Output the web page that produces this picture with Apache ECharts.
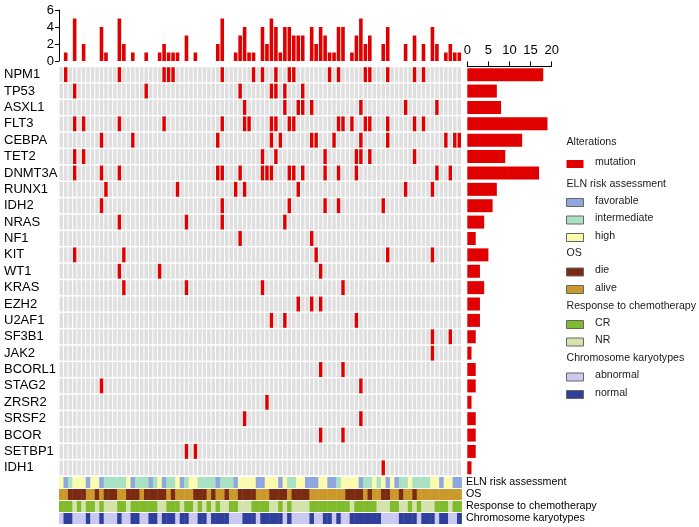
<!DOCTYPE html>
<html><head><meta charset="utf-8">
<script src="https://cdn.jsdelivr.net/npm/echarts/dist/echarts.min.js"></script>
<style>html,body{margin:0;padding:0;background:#fff}#c{width:699px;height:527px}</style>
</head><body><div id="c"></div>
<script>
// ---------------- data ----------------
const genes = ['NPM1','TP53','ASXL1','FLT3','CEBPA','TET2','DNMT3A','RUNX1','IDH2','NRAS','NF1','KIT','WT1','KRAS','EZH2','U2AF1','SF3B1','JAK2','BCORL1','STAG2','ZRSR2','SRSF2','BCOR','SETBP1','IDH1'];
const geneCounts = [18,7,8,19,13,9,17,7,6,4,2,5,3,4,3,3,2,1,2,2,1,2,2,2,1];
const sampleCounts = [0,1,0,5,0,2,0,0,0,4, 1,0,0,5,2,0,1,0,0,1, 0,0,1,2,1,1,1,0,3,0, 1,0,0,0,0,2,5,0,0,1, 3,4,1,1,0,4,2,5,4,1, 4,4,3,3,3,0,4,2,4,3, 1,1,4,4,0,1,3,5,2,3, 0,0,2,4,0,0,0,2,0,3, 0,2,0,4,2,0,1,2,1,1];
// sample indices (0-based columns) carrying a mutation, one list per gene
const mutatedSamples = [
  [1,13,23,24,25,36,43,45,48,51,52,60,62,68,69,73,79,81],
  [3,19,40,47,48,50,54],
  [41,50,53,54,56,67,77,84],
  [3,5,13,23,36,41,42,47,48,51,52,62,63,65,68,69,73,79,81],
  [9,16,35,47,49,56,57,61,67,73,86,88,89],
  [3,5,45,48,59,66,67,69,79],
  [3,9,13,35,36,40,45,46,47,51,52,54,59,62,66,84,87],
  [10,26,39,41,53,77,83],
  [9,36,51,59,62,72],
  [13,28,36,50],
  [40,56],
  [3,14,57,73,83],
  [13,22,58],
  [14,28,45,63],
  [53,56,58],
  [47,50,66],
  [83,87],
  [83],
  [58,63],
  [9,67],
  [46],
  [41,67],
  [58,63],
  [28,30],
  [72]
];
const trackNames = ['ELN risk assessment','OS','Response to chemotherapy','Chromosome karyotypes'];
// ELN: F favorable, I intermediate, H high
const eln = ['H','F','I','H','H','H','F','H','H','F', 'I','I','I','I','I','H','F','I','I','I', 'F','I','H','F','I','I','H','F','I','H',
             'H','I','I','I','I','F','I','I','I','F', 'H','H','H','H','F','F','H','H','H','F', 'H','I','I','H','H','F','F','F','H','H',
             'F','F','I','H','H','H','H','F','I','I', 'H','I','H','F','H','F','I','I','H','I', 'I','I','I','H','H','F','H','H','F','F'];
// OS: D die, A alive
const os = ['A','A','D','D','D','D','A','A','D','A', 'D','D','D','A','A','D','D','D','A','D', 'D','D','D','D','A','D','A','A','A','A',
            'D','D','D','A','D','A','A','D','A','A', 'D','D','D','D','A','A','A','D','D','D', 'D','A','D','D','D','D','A','A','A','A',
            'A','A','A','A','D','D','D','D','A','D', 'A','A','D','D','A','A','D','A','A','D', 'A','A','A','A','A','A','A','A','A','A'];
// Response: C CR, N NR
const response = ['C','C','C','N','C','N','C','C','N','C', 'N','N','N','C','C','N','C','C','C','C', 'C','C','N','N','C','C','C','N','C','C',
                  'N','C','N','C','N','C','N','N','C','C', 'N','N','N','C','C','C','C','N','N','C', 'N','C','N','N','N','N','C','C','C','C',
                  'C','C','C','C','C','N','C','C','C','C', 'C','N','N','N','C','C','N','N','C','N', 'C','N','N','N','C','C','C','N','C','C'];
// Karyotype: a abnormal, n normal
const karyotype = ['a','n','n','a','a','a','n','a','a','n', 'a','a','a','n','a','a','n','n','a','a', 'n','n','a','n','n','n','a','n','n','a',
                   'a','n','n','a','n','n','n','n','a','a', 'a','n','n','n','a','n','n','n','n','n', 'a','n','a','a','a','a','n','a','a','n',
                   'n','a','n','a','a','n','n','n','n','n', 'n','n','a','a','a','a','n','n','n','n', 'a','n','n','n','a','n','n','a','a','n'];

// ---------------- styles ----------------
const RED = '#e00000', GREY = '#dfdfdf';
const trackColors = [
  {F:'#8ea7e0', I:'#a8e2c3', H:'#fbfbad'},
  {D:'#7a2b12', A:'#cb982c'},
  {C:'#80bb2c', N:'#d3e3aa'},
  {a:'#c9c9f1', n:'#2e409c'}
];
const legendGroups = [
  {title:'Alterations', y:144, items:[['mutation',RED,false]]},
  {title:'ELN risk assessment', y:185.5, items:[['favorable',trackColors[0].F,true],['intermediate',trackColors[0].I,true],['high',trackColors[0].H,true]]},
  {title:'OS', y:255, items:[['die',trackColors[1].D,true],['alive',trackColors[1].A,true]]},
  {title:'Response to chemotherapy', y:307.5, items:[['CR',trackColors[2].C,true],['NR',trackColors[2].N,true]]},
  {title:'Chromosome karyotypes', y:360, items:[['abnormal',trackColors[3].a,true],['normal',trackColors[3].n,true]]}
];

const FONT = 'Liberation Sans, Arial, sans-serif';
const samples = sampleCounts.map((_, i) => 'S' + (i + 1));

const cellData = [];
genes.forEach((g, gi) => {
  samples.forEach((s, si) => {
    cellData.push([si, gi, mutatedSamples[gi].indexOf(si) >= 0 ? 1 : 0]);
  });
});
const trackSeq = [eln, os, response, karyotype];
const trackData = [];
trackSeq.forEach((arr, ti) => arr.forEach((v, si) => trackData.push([si, ti])));

const graphics = [];
legendGroups.forEach((grp, gi) => {
  graphics.push({type:'text', left:566.5, top:grp.y - 7, style:{text:grp.title, fontSize:10.6, fontFamily:FONT, fill:'#1a1a1a'}});
  grp.items.forEach((it, ii) => {
    const yy = grp.y + (gi === 0 ? 20 : 17) + 17.5 * ii;
    graphics.push({type:'rect', shape:{x:566.5, y:yy - 4, width:17, height:8},
      style:{fill:it[1], stroke: it[2] ? '#666' : null, lineWidth:1}});
    graphics.push({type:'text', left:595, top:yy - 7, style:{text:it[0], fontSize:10.6, fontFamily:FONT, fill:'#1a1a1a'}});
  });
});

const hiddenCat = (gi, data, inv) => ({type:'category', gridIndex:gi, data:data, show:false, inverse:!!inv});

const option = {
  animation:false,
  textStyle:{fontFamily:FONT},
  grid:[
    {left:59, top:10, width:402.5, height:51, outerBoundsMode:'none'},
    {left:59, top:66.5, width:402.5, height:409.5, outerBoundsMode:'none'},
    {left:59, top:476.5, width:402.5, height:48, outerBoundsMode:'none'},
    {left:467.3, top:66.5, width:84.4, height:409.5, outerBoundsMode:'none'}
  ],
  xAxis:[
    hiddenCat(0, samples),
    hiddenCat(1, samples),
    hiddenCat(2, samples),
    {type:'value', gridIndex:3, position:'top', min:0, max:20, interval:5,
      axisLine:{show:true, lineStyle:{color:'#000', width:1}},
      axisTick:{show:true, length:5, lineStyle:{color:'#000'}},
      axisLabel:{fontSize:13, color:'#000', margin:10, fontFamily:FONT},
      splitLine:{show:false}}
  ],
  yAxis:[
    {type:'value', gridIndex:0, min:0, max:6, interval:2,
      axisLine:{show:true, lineStyle:{color:'#000'}},
      axisTick:{show:true, length:4, lineStyle:{color:'#000'}},
      axisLabel:{fontSize:13, color:'#000', margin:5, fontFamily:FONT},
      splitLine:{show:false}},
    {type:'category', gridIndex:1, data:genes, inverse:true,
      axisLine:{show:false}, axisTick:{show:false},
      axisLabel:{interval:0, align:'left', margin:55, fontSize:13, color:'#000', fontFamily:FONT}},
    {type:'category', gridIndex:2, data:trackNames, inverse:true, position:'right',
      axisLine:{show:false}, axisTick:{show:false},
      axisLabel:{interval:0, align:'left', margin:4.5, fontSize:10.7, color:'#000', fontFamily:FONT}},
    hiddenCat(3, genes, true)
  ],
  series:[
    {type:'bar', xAxisIndex:0, yAxisIndex:0, data:sampleCounts, barWidth:3.6, itemStyle:{color:RED}},
    {type:'custom', xAxisIndex:1, yAxisIndex:1, data:cellData,
      renderItem:function(params, api){
        const c = api.coord([api.value(0), api.value(1)]);
        const s = api.size([1, 1]);
        return {type:'rect', shape:{x:c[0]-s[0]/2+0.5, y:c[1]-s[1]/2+0.75, width:s[0]-1, height:s[1]-1.5},
          style:{fill: api.value(2) ? RED : GREY}};
      }},
    {type:'custom', xAxisIndex:2, yAxisIndex:2, data:trackData,
      renderItem:function(params, api){
        const si = api.value(0), ti = api.value(1);
        const c = api.coord([si, ti]);
        const s = api.size([1, 1]);
        const code = trackSeq[ti][si];
        return {type:'rect', shape:{x:c[0]-s[0]/2, y:c[1]-s[1]/2+0.5, width:s[0]+0.4, height:s[1]-1},
          style:{fill: trackColors[ti][code]}};
      }},
    {type:'bar', xAxisIndex:3, yAxisIndex:3, data:geneCounts, barWidth:13, itemStyle:{color:RED}}
  ],
  graphic:graphics
};
const chart = echarts.init(document.getElementById('c'), null, {renderer:'canvas'});
chart.setOption(option);
</script></body></html>
